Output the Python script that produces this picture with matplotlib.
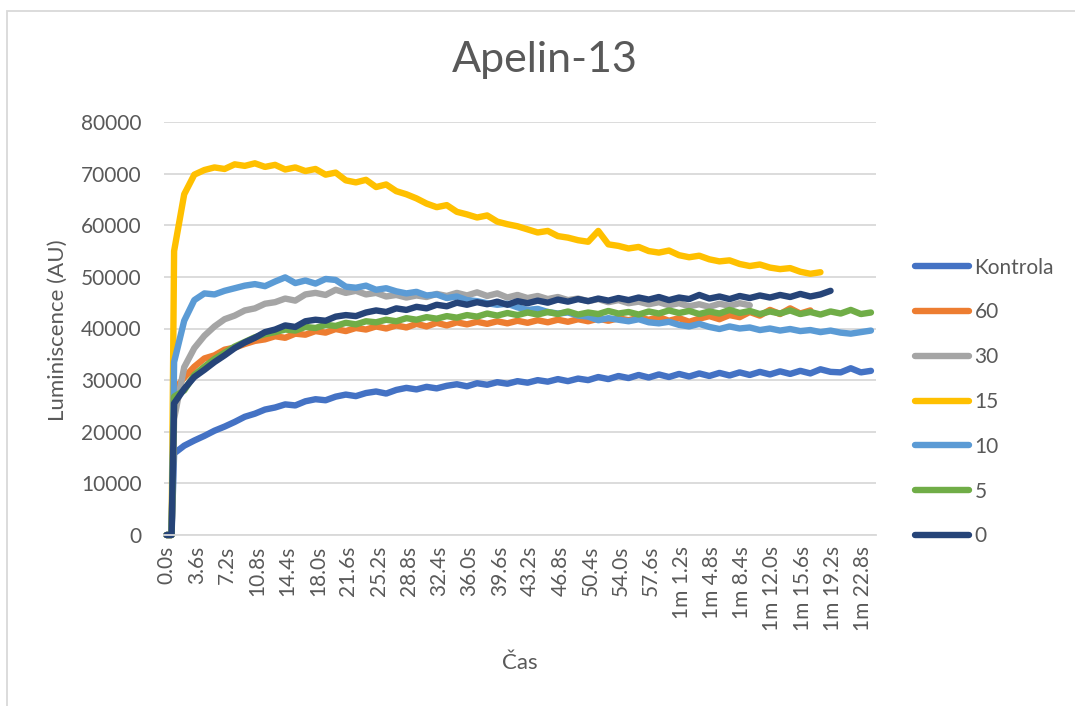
import numpy as np
import matplotlib
matplotlib.use('Agg')
import matplotlib.pyplot as plt
from matplotlib.patches import Rectangle

plt.rcParams['font.family'] = ['Lato', 'DejaVu Sans']

# time axis (s): two zero readings, then every 1.2 s
time = [0.0, 0.6] + list(np.round(0.9 + 1.2 * np.arange(70), 1))

kontrola = [0, 0,
            15800, 17300, 18300, 19200, 20200, 21000, 21900, 22900, 23500, 24300,
            24700, 25300, 25100, 25900, 26300, 26100, 26800, 27200, 26900, 27500,
            27800, 27400, 28100, 28500, 28200, 28700, 28400, 28900, 29200, 28800,
            29400, 29100, 29600, 29300, 29800, 29500, 30000, 29700, 30200, 29800,
            30300, 30000, 30600, 30200, 30800, 30400, 31000, 30500, 31100, 30600,
            31200, 30700, 31300, 30800, 31400, 30900, 31500, 31000, 31600, 31100,
            31700, 31200, 31800, 31300, 32100, 31600, 31500, 32300, 31500, 31800]

s60 = [0, 0,
       28000, 30500, 32600, 34200, 34800, 35900, 36300, 37000, 37600, 37900,
       38500, 38200, 39000, 38800, 39500, 39200, 39900, 39500, 40100, 39800,
       40400, 40000, 40600, 40200, 40900, 40400, 41100, 40600, 41200, 40800,
       41300, 40900, 41400, 41000, 41500, 41100, 41600, 41200, 41700, 41300,
       41800, 41400, 41900, 41500, 42000, 41600, 42100, 41700, 42200, 41500,
       42000, 41300, 41900, 42400, 41800, 42600, 42200, 43200, 42500, 43600,
       42800, 43900, 42900, 43500]

s30 = [0, 0,
       22500, 32500, 36200, 38600, 40400, 41800, 42500, 43500, 43900, 44800,
       45100, 45800, 45400, 46600, 46900, 46500, 47500, 46900, 47300, 46600,
       46900, 46200, 46500, 46000, 46400, 46100, 46700, 46300, 46900, 46400,
       47000, 46300, 46800, 46000, 46500, 45900, 46300, 45700, 46100, 45500,
       45800, 45300, 45700, 45100, 45500, 44900, 45200, 44700, 45100, 44500,
       44900, 44300, 44700, 44200, 44800, 44400, 44900, 44500]

s15 = [0, 0,
       55000, 66000, 69800, 70700, 71200, 70900, 71800, 71500, 72000, 71300,
       71700, 70800, 71200, 70500, 70900, 69800, 70200, 68700, 68300, 68800,
       67400, 67900, 66600, 66000, 65200, 64200, 63500, 63900, 62600, 62100,
       61500, 61900, 60700, 60200, 59800, 59200, 58600, 58900, 57900, 57600,
       57100, 56800, 58900, 56300, 56000, 55500, 55800, 55000, 54700, 55100,
       54200, 53800, 54100, 53400, 53000, 53200, 52500, 52100, 52400, 51800,
       51500, 51700, 51000, 50600, 50900]

s10 = [0, 0,
       33500, 41500, 45500, 46800, 46600, 47300, 47800, 48300, 48600, 48200,
       49100, 49900, 48800, 49300, 48700, 49600, 49400, 48100, 47900, 48300,
       47500, 47800, 47200, 46800, 47100, 46400, 46600, 45900, 46200, 45500,
       45300, 44900, 44600, 44800, 44100, 43600, 43800, 43200, 42900, 43100,
       42500, 42300, 41600, 42000, 41700, 41400, 41800, 41200, 41000, 41300,
       40700, 40400, 40900, 40300, 39900, 40400, 40000, 40200, 39700, 40000,
       39600, 39900, 39500, 39700, 39300, 39600, 39200, 39000, 39300, 39600]

s5 = [0, 0,
      26800, 28000, 31000, 32600, 34100, 35300, 36500, 37400, 38300, 38900,
      39300, 39800, 39600, 40300, 40100, 40700, 40500, 41100, 40800, 41400,
      41200, 41700, 41400, 42000, 41700, 42200, 41900, 42400, 42100, 42600,
      42300, 42900, 42500, 43000, 42600, 43100, 42700, 43200, 42800, 43300,
      42700, 43100, 42800, 43400, 42900, 43200, 42700, 43300, 42900, 43500,
      43000, 43400, 42800, 43300, 42900, 43600, 43000, 43400, 42800, 43300,
      42900, 43500, 42800, 43200, 42700, 43300, 42900, 43600, 42800, 43100]

s0 = [0, 0,
      25500, 28300, 30600, 32000, 33500, 34800, 36200, 37300, 38200, 39300,
      39800, 40600, 40300, 41400, 41700, 41500, 42300, 42600, 42400, 43100,
      43500, 43200, 43900, 43600, 44200, 43900, 44600, 44300, 45000, 44600,
      45100, 44700, 45200, 44600, 45300, 44900, 45400, 45000, 45600, 45200,
      45700, 45300, 45800, 45400, 45900, 45500, 46000, 45600, 46100, 45500,
      46000, 45700, 46500, 45800, 46200, 45700, 46300, 45900, 46400, 46000,
      46500, 46100, 46700, 46200, 46600, 47300]

labels = ['Kontrola', '60', '30', '15', '10', '5', '0']
series = [kontrola, s60, s30, s15, s10, s5, s0]
colors = ['#4472C4', '#ED7D31', '#A5A5A5', '#FFC000', '#5B9BD5', '#70AD47', '#264478']

tick_times = np.round(np.arange(0, 83, 3.6), 1)


def fmt_time(t):
    if t >= 60:
        return '1m %.1fs' % (t - 60)
    return '%.1fs' % t


fig = plt.figure(figsize=(10.75, 7.06), dpi=100)
fig.patches.append(Rectangle((7 / 1075, -0.05), 1.1, 1.05 - 11 / 706,
                             transform=fig.transFigure, fill=False,
                             edgecolor='#D9D9D9', linewidth=1.3))
ax = fig.add_axes([164 / 1075, 1 - 535 / 706, 712 / 1075, 413 / 706])

for vals, lab, col in zip(series, labels, colors):
    ax.plot(time[:len(vals)], vals, color=col, linewidth=4.6, label=lab,
            solid_capstyle='round', solid_joinstyle='round', clip_on=False)

ax.set_xlim(-0.3, 84.3)
ax.set_ylim(0, 80000)
ax.set_yticks(np.arange(0, 80001, 10000))
ax.set_xticks(tick_times)
ax.set_xticklabels([fmt_time(t) for t in tick_times], rotation=90, va='top')
ax.grid(axis='y', color='#D9D9D9', linewidth=1.3)
ax.set_axisbelow(True)
for side in ['top', 'right', 'left']:
    ax.spines[side].set_visible(False)
ax.spines['bottom'].set_color('#D9D9D9')
ax.spines['bottom'].set_linewidth(1.3)
ax.tick_params(axis='both', length=0, labelsize=15, labelcolor='#595959')
ax.tick_params(axis='y', pad=16)
ax.tick_params(axis='x', pad=8)

ax.set_ylabel('Luminiscence (AU)', fontsize=16, color='#595959')
ax.yaxis.set_label_coords(-0.135, 0.496)
fig.text(520 / 1075, 1 - 663 / 706, 'Čas', fontsize=16, color='#595959',
         ha='center', va='center')
fig.text(545 / 1075, 1 - 60 / 706, 'Apelin-13', fontsize=31, color='#595959',
         ha='center', va='center')

ax.legend(loc='center left', bbox_to_anchor=(915 / 1075, 1 - 402 / 706),
          bbox_transform=fig.transFigure, frameon=False, fontsize=15,
          handlelength=2.6, handletextpad=0.25, labelspacing=1.19,
          borderpad=0, borderaxespad=0, labelcolor='#595959')

fig.savefig('out.png', dpi=100)
